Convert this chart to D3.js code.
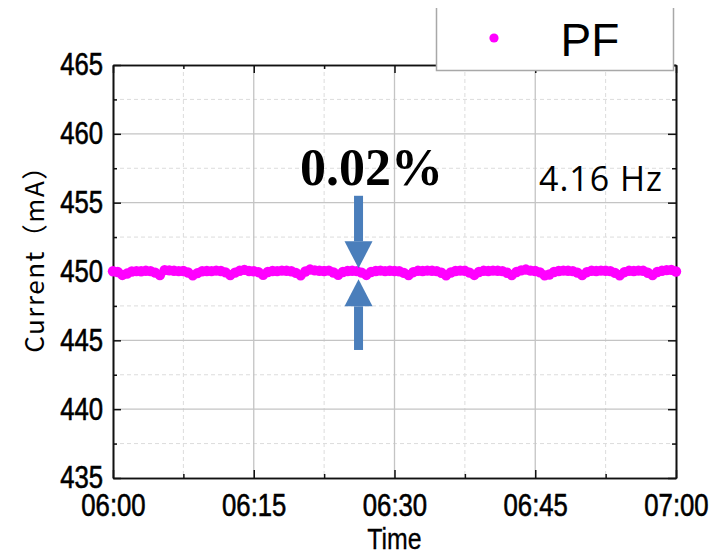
<!DOCTYPE html>
<html><head><meta charset="utf-8">
<script src="https://cdn.jsdelivr.net/npm/d3@7"></script>
<style>
body{margin:0;background:#fff;}
svg{display:block;}
</style></head>
<body>
<svg id="c" width="713" height="554"></svg>
<script>
// ---- data ----
const seriesName = "PF";
const startTime = "06:00";
const stepSeconds = 30;
const currentValues = [
450.02,449.96,449.75,449.85,450.00,450.03,450.02,450.05,450.03,449.92,
449.74,450.10,450.08,450.05,450.03,450.04,449.93,449.72,449.88,450.02,
450.04,450.03,450.06,450.04,449.94,449.74,449.92,450.05,450.12,450.04,
450.02,449.95,449.76,449.96,450.04,450.03,450.06,450.05,450.02,449.90,
449.72,450.00,450.14,450.08,450.05,450.04,450.06,449.93,449.76,449.96,
450.04,450.05,450.03,449.92,449.75,449.96,450.04,450.06,450.03,450.05,
450.04,450.02,449.90,449.74,449.95,450.05,450.04,450.06,450.05,450.03,
449.91,449.72,449.93,450.04,450.06,450.05,449.92,449.75,449.96,450.05,
450.04,450.06,450.05,450.03,449.91,449.74,449.96,450.08,450.14,450.06,
450.04,449.94,449.72,449.78,449.96,450.04,450.06,450.05,450.03,449.92,
449.74,449.95,450.05,450.04,450.06,450.05,450.03,449.90,449.73,449.95,
450.05,450.04,450.06,450.05,449.91,449.74,449.96,450.05,450.10,450.12,
450.00];
const yTicks = [435,440,445,450,455,460,465];
const xTickLabels = ["06:00","06:15","06:30","06:45","07:00"];
const annotationText = "0.02%";
const freqText = "4.16 Hz";
const xTitle = "Time";
const yTitle = "Current（mA）";
const arrowTime = "06:26:10";
const arrowTopValue = 450.23, arrowBottomValue = 449.43;
const arrowTopStart = 455.5, arrowBottomEnd = 444.3;

// ---- layout ----
const L = 113, R = 676, T = 65, B = 478;
const SX = 0.83; // horizontal condensation for narrow-looking labels
const parse = d3.timeParse("%H:%M");
const parseS = d3.timeParse("%H:%M:%S");
const t0 = parse(startTime);
const data = currentValues.map((v,i)=>({t:new Date(t0.getTime()+i*stepSeconds*1000), v}));

const x = d3.scaleTime().domain([parse("06:00"), parse("07:00")]).range([L,R]);
const y = d3.scaleLinear().domain([435,465]).range([B,T]);

const svg = d3.select("#c");
const g = svg.append("g");

// grid
const majorX = xTickLabels.map(s=>parse(s));
const minorX = d3.range(0,9).map(i=>new Date(t0.getTime()+i*7.5*60000)).filter((d,i)=>i%2===1);
const minorY = d3.range(437.5,465,5);

g.selectAll(".gmx").data(minorX).join("line")
 .attr("x1",d=>x(d)).attr("x2",d=>x(d)).attr("y1",T).attr("y2",B)
 .attr("stroke","#dcdcdc").attr("stroke-dasharray","4,3").attr("stroke-width",1);
g.selectAll(".gmy").data(minorY).join("line")
 .attr("x1",L).attr("x2",R).attr("y1",d=>y(d)).attr("y2",d=>y(d))
 .attr("stroke","#dcdcdc").attr("stroke-dasharray","4,3").attr("stroke-width",1);
g.selectAll(".gMx").data(majorX.slice(1,-1)).join("line")
 .attr("x1",d=>x(d)).attr("x2",d=>x(d)).attr("y1",T).attr("y2",B)
 .attr("stroke","#c4c4c4").attr("stroke-width",1.3);
g.selectAll(".gMy").data(yTicks.slice(1,-1)).join("line")
 .attr("x1",L).attr("x2",R).attr("y1",d=>y(d)).attr("y2",d=>y(d))
 .attr("stroke","#c4c4c4").attr("stroke-width",1.3);

// axes
const font = "'Liberation Sans', Arial, sans-serif";
const axB = d3.axisBottom(x).tickValues(majorX).tickFormat(d3.timeFormat("%H:%M")).tickSizeInner(-8).tickSizeOuter(0).tickPadding(16);
const axT = d3.axisTop(x).tickValues(majorX).tickFormat("").tickSizeInner(-8).tickSizeOuter(0);
const axLft = d3.axisLeft(y).tickValues(yTicks).tickSizeInner(-8).tickSizeOuter(0).tickPadding(12);
const axRt = d3.axisRight(y).tickValues(yTicks).tickFormat("").tickSizeInner(-8).tickSizeOuter(0);
const axBm = d3.axisBottom(x).tickValues(minorX).tickFormat("").tickSizeInner(-4).tickSizeOuter(0);
const axTm = d3.axisTop(x).tickValues(minorX).tickFormat("").tickSizeInner(-4).tickSizeOuter(0);
const axLm = d3.axisLeft(y).tickValues(minorY).tickFormat("").tickSizeInner(-4).tickSizeOuter(0);
const axRm = d3.axisRight(y).tickValues(minorY).tickFormat("").tickSizeInner(-4).tickSizeOuter(0);

function styleAx(sel){
  sel.select(".domain").attr("stroke","#111").attr("stroke-width",1.6);
  sel.selectAll(".tick line").attr("stroke","#111").attr("stroke-width",1.5);
  sel.selectAll("text").attr("font-family",font).attr("font-size",31).attr("fill","#000")
     .attr("stroke","#000").attr("stroke-width",0.6).attr("transform",`scale(${SX},1)`);
}
[[axBm,`translate(0,${B})`],[axTm,`translate(0,${T})`],[axLm,`translate(${L},0)`],[axRm,`translate(${R},0)`],
 [axB,`translate(0,${B})`],[axT,`translate(0,${T})`],[axLft,`translate(${L},0)`],[axRt,`translate(${R},0)`]]
 .forEach(([a,tr])=>{ const s=g.append("g").attr("transform",tr).call(a); styleAx(s); });

// data points
g.append("g").selectAll("circle").data(data).join("circle")
 .attr("cx",d=>x(d.t)).attr("cy",d=>y(d.v)).attr("r",5.2).attr("fill","#ff00ff");

// arrows
const ax = x(parseS(arrowTime));
const blue = "#4a7ebb";
function arrow(tipV, tailV){
  const ty=y(tipV), sy=y(tailV), dir = sy<ty?1:-1;
  const hb = ty - dir*27;
  g.append("rect").attr("x",ax-4.5).attr("width",9)
   .attr("y",Math.min(sy,hb)).attr("height",Math.abs(hb-sy)).attr("fill",blue);
  g.append("path").attr("d",`M${ax-14},${hb}L${ax+14},${hb}L${ax},${ty}Z`).attr("fill",blue);
}
arrow(arrowTopValue, arrowTopStart);
arrow(arrowBottomValue, arrowBottomEnd);

// texts
g.append("text").attr("x",ax+13).attr("y",185).attr("text-anchor","middle")
 .attr("font-family","'Liberation Serif','Times New Roman',serif").attr("font-weight","bold")
 .attr("font-size",52).text(annotationText);
g.append("text").attr("x",601).attr("y",191).attr("text-anchor","middle")
 .attr("font-family","'Open Sans','Noto Sans',sans-serif").attr("font-size",34)
 .attr("letter-spacing",1).text(freqText);

// titles
g.append("text").attr("transform",`translate(${(L+R)/2},549) scale(${SX},1)`).attr("text-anchor","middle")
 .attr("font-family",font).attr("font-size",30).attr("stroke","#000").attr("stroke-width",0.3).text(xTitle);
g.append("text").attr("transform",`translate(44,${(T+B)/2-19}) rotate(-90)`).attr("text-anchor","middle")
 .attr("font-family","'Noto Sans CJK JP','Noto Sans',sans-serif").attr("font-size",26)
 .attr("letter-spacing",1.5).text(yTitle);

// legend
const lg = g.append("g");
lg.append("rect").attr("x",436).attr("y",4).attr("width",238).attr("height",67).attr("fill","#fff");
lg.append("path").attr("d","M436.5,8V70.5H673.5V8").attr("fill","none").attr("stroke","#a8a8a8").attr("stroke-width",1.5);
lg.append("circle").attr("cx",494).attr("cy",38).attr("r",4.6).attr("fill","#ff00ff");
lg.append("text").attr("x",590).attr("y",56).attr("text-anchor","middle")
 .attr("font-family",font).attr("font-size",46).text(seriesName);
</script>
</body></html>
